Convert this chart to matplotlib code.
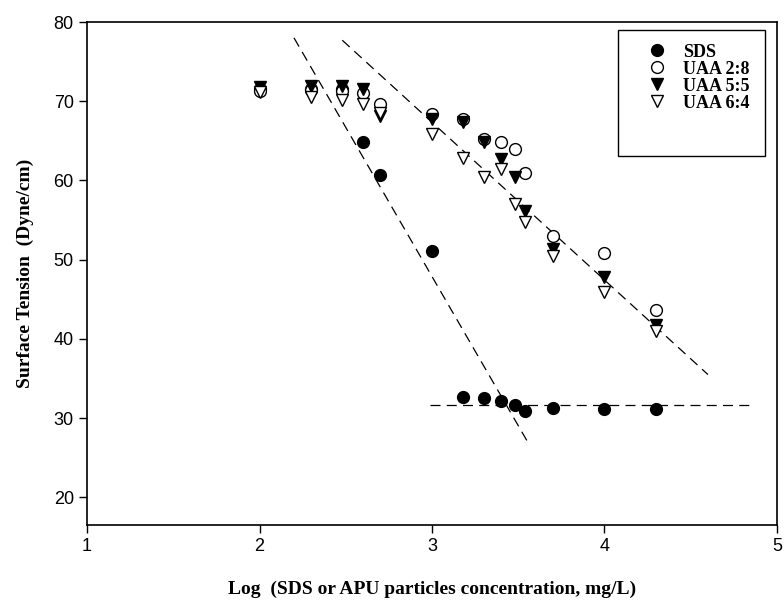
import matplotlib
matplotlib.use("Agg")
import matplotlib.pyplot as plt
from matplotlib.patches import Rectangle

# log10 of concentration (mg/L)
log_conc = [2.0, 2.30, 2.48, 2.60, 2.70, 3.0, 3.18, 3.30, 3.40, 3.48, 3.54, 3.70, 4.0, 4.30]

# surface tension (dyne/cm)
sds = [71.5, 71.6, 71.5, 64.8, 60.7, 51.1, 32.7, 32.6, 32.2, 31.6, 30.9, 31.3, 31.1, 31.2]
uaa_28 = [71.3, 71.4, 71.3, 71.1, 69.6, 68.4, 67.8, 65.2, 64.8, 64.0, 61.0, 53.0, 50.8, 43.6]
uaa_55 = [71.8, 71.9, 71.9, 71.6, 68.1, 67.8, 67.4, 64.9, 62.7, 60.4, 56.2, 51.3, 47.8, 41.8]
uaa_64 = [71.2, 70.6, 70.2, 69.7, 68.5, 65.9, 62.8, 60.5, 61.5, 57.0, 54.8, 50.5, 45.9, 41.0]

# fitted trend lines (end points)
sds_drop_x = [2.20, 3.56]
sds_drop_y = [78.0, 26.8]
sds_cmc_x = [2.99, 4.87]
sds_cmc_y = [31.7, 31.7]
uaa_x = [2.48, 4.60]
uaa_y = [77.7, 35.5]

serif_bold = {"family": "Liberation Serif", "weight": "bold"}

fig = plt.figure(figsize=(7.84, 6.12), dpi=100)
ax = fig.add_axes([0.111, 0.142, 0.880, 0.822])

dash = dict(color="black", lw=0.9, ls=(0, (8, 5)))
ax.plot(sds_drop_x, sds_drop_y, **dash)
ax.plot(sds_cmc_x, sds_cmc_y, **dash)
ax.plot(uaa_x, uaa_y, **dash)

ms = 8.5
ax.plot(log_conc, sds, "o", ms=ms, mfc="black", mec="black", ls="none", label="SDS")
ax.plot(log_conc, uaa_28, "o", ms=ms, mfc="white", mec="black", mew=1.0, ls="none", label="UAA 2:8")
ax.plot(log_conc, uaa_55, "v", ms=ms, mfc="black", mec="black", ls="none", label="UAA 5:5")
ax.plot(log_conc, uaa_64, "v", ms=ms, mfc="white", mec="black", mew=1.0, ls="none", label="UAA 6:4")

ax.set_xlim(1, 5)
ax.set_ylim(16.5, 80)
ax.set_xticks([1, 2, 3, 4, 5])
ax.set_yticks([20, 30, 40, 50, 60, 70, 80])
ax.tick_params(direction="out", length=6, width=1, labelsize=13, top=False, right=False)
for lab in ax.get_xticklabels() + ax.get_yticklabels():
    lab.set_fontfamily("Liberation Sans")
for sp in ax.spines.values():
    sp.set_linewidth(1.2)

ax.set_xlabel("Log  (SDS or APU particles concentration, mg/L)", fontsize=14, labelpad=18, **serif_bold)
ax.set_ylabel("Surface Tension  (Dyne/cm)", fontsize=14, labelpad=14, **serif_bold)

# legend entries without frame; the box is drawn on its own with room below
leg = ax.legend(loc="upper left", bbox_to_anchor=(0.812, 0.957), frameon=False,
                prop={"family": "Liberation Serif", "weight": "bold", "size": 13},
                handletextpad=0.95, borderpad=0, borderaxespad=0,
                labelspacing=0.0, handlelength=1.05)
ax.add_patch(Rectangle((0.770, 0.734), 0.213, 0.250, transform=ax.transAxes,
                       facecolor="none", edgecolor="black", lw=1.0, zorder=5))

fig.savefig("out.png", dpi=100)
